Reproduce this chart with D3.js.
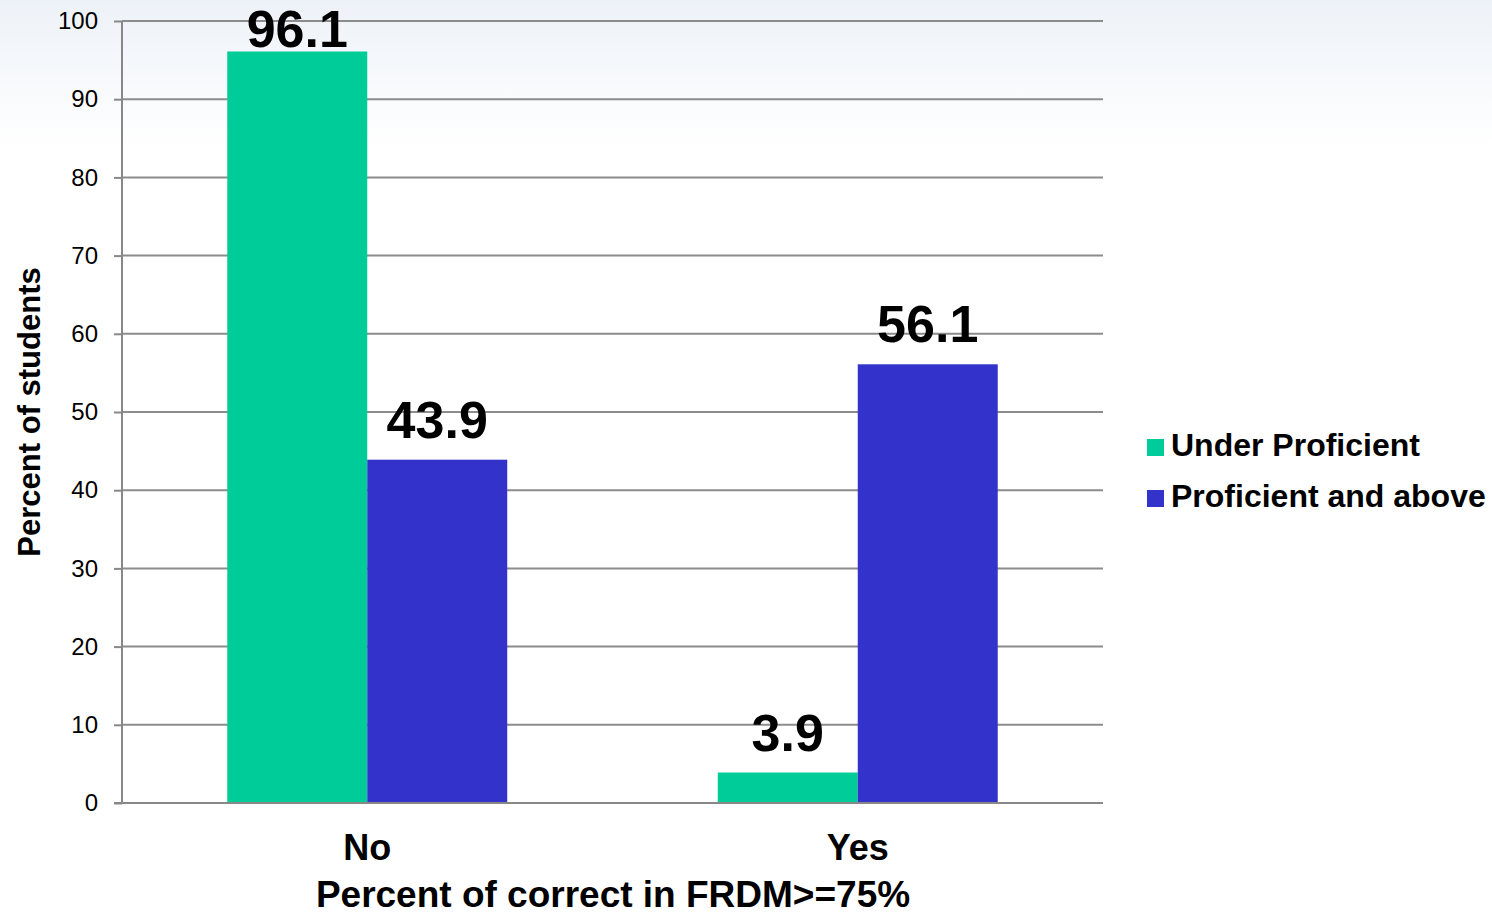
<!DOCTYPE html>
<html>
<head>
<meta charset="utf-8">
<script src="https://cdn.jsdelivr.net/npm/d3@7"></script>
<style>
  html, body { margin: 0; padding: 0; background: #fff; }
  svg { display: block; font-family: "Liberation Sans", Arial, sans-serif; }
</style>
</head>
<body>
<svg id="chart" width="1492" height="914"></svg>
<script>
// chart data
var categories = ['No', 'Yes'];
var seriesNames = ['Under Proficient', 'Proficient and above'];
var underProficient = [96.1, 3.9];
var proficientAbove = [43.9, 56.1];
var yTicks = [0, 10, 20, 30, 40, 50, 60, 70, 80, 90, 100];
var seriesColors = ['#00cc99', '#3333cc'];

var svg = d3.select('#chart'),
    width = 1492,
    height = 914,
    margin = {top: 21, right: 389, bottom: 111, left: 122},
    plotW = width - margin.left - margin.right,
    plotH = height - margin.top - margin.bottom;

// soft background fade at the top
var defs = svg.append('defs');
var grad = defs.append('linearGradient')
    .attr('id', 'bg')
    .attr('x1', 0).attr('y1', 0).attr('x2', 0).attr('y2', 1);
grad.append('stop').attr('offset', '0%').attr('stop-color', '#edf2f8');
grad.append('stop').attr('offset', '16%').attr('stop-color', '#ffffff');
grad.append('stop').attr('offset', '100%').attr('stop-color', '#ffffff');
svg.append('rect')
    .attr('width', width).attr('height', height)
    .attr('fill', 'url(#bg)');

var g = svg.append('g')
    .attr('transform', 'translate(' + margin.left + ',' + margin.top + ')');

var x0 = d3.scaleBand()
    .domain(categories)
    .range([0, plotW])
    .paddingInner(0.4292)
    .paddingOuter(0.2146);

var x1 = d3.scaleBand()
    .domain(seriesNames)
    .range([0, x0.bandwidth()]);

var y = d3.scaleLinear()
    .domain([0, 100])
    .range([plotH, 0]);

// gridlines + y ticks
var yAxis = g.append('g')
    .call(d3.axisLeft(y).tickValues(yTicks).tickSize(8).tickPadding(16));
yAxis.select('.domain').remove();
yAxis.selectAll('.tick line')
    .attr('stroke', '#888').attr('stroke-width', 2);
yAxis.selectAll('.tick text')
    .attr('fill', '#000')
    .style('font-size', '24px');

g.append('g')
    .selectAll('line')
    .data(yTicks.filter(function(d) { return d > 0; }))
    .enter().append('line')
    .attr('x1', 0).attr('x2', plotW)
    .attr('y1', function(d) { return y(d); })
    .attr('y2', function(d) { return y(d); })
    .attr('stroke', '#8c8c8c')
    .attr('stroke-width', 2);

// bars
var rows = categories.map(function(c, i) {
    return {cat: c, values: [
        {name: seriesNames[0], value: underProficient[i], color: seriesColors[0]},
        {name: seriesNames[1], value: proficientAbove[i], color: seriesColors[1]}
    ]};
});

var groups = g.selectAll('.group')
    .data(rows)
    .enter().append('g')
    .attr('class', 'group')
    .attr('transform', function(d) { return 'translate(' + x0(d.cat) + ',0)'; });

groups.selectAll('rect')
    .data(function(d) { return d.values; })
    .enter().append('rect')
    .attr('x', function(d) { return x1(d.name); })
    .attr('width', x1.bandwidth())
    .attr('y', function(d) { return y(d.value); })
    .attr('height', function(d) { return plotH - y(d.value); })
    .attr('fill', function(d) { return d.color; });

// labels sit above the bar, but never higher than the top of the plot
groups.selectAll('.val')
    .data(function(d) { return d.values; })
    .enter().append('text')
    .attr('class', 'val')
    .attr('x', function(d) { return x1(d.name) + x1.bandwidth() / 2; })
    .attr('y', function(d) { return Math.max(y(d.value) - 22, 26); })
    .attr('text-anchor', 'middle')
    .style('font-size', '52px')
    .style('font-weight', 'bold')
    .text(function(d) { return d3.format('.1f')(d.value); });

// axis lines
g.append('line')
    .attr('x1', 0).attr('x2', 0)
    .attr('y1', 0).attr('y2', plotH)
    .attr('stroke', '#888').attr('stroke-width', 2);
g.append('line')
    .attr('x1', -8).attr('x2', plotW)
    .attr('y1', plotH).attr('y2', plotH)
    .attr('stroke', '#888').attr('stroke-width', 2);

// category labels
g.selectAll('.cat')
    .data(categories)
    .enter().append('text')
    .attr('class', 'cat')
    .attr('x', function(d) { return x0(d) + x0.bandwidth() / 2; })
    .attr('y', plotH + 57)
    .attr('text-anchor', 'middle')
    .style('font-size', '36px')
    .style('font-weight', 'bold')
    .text(function(d) { return d; });

// axis titles
svg.append('text')
    .attr('x', 613)
    .attr('y', 907)
    .attr('text-anchor', 'middle')
    .style('font-size', '37px')
    .style('font-weight', 'bold')
    .text('Percent of correct in FRDM>=75%');

svg.append('text')
    .attr('transform', 'translate(40,412) rotate(-90)')
    .attr('text-anchor', 'middle')
    .style('font-size', '31px')
    .style('font-weight', 'bold')
    .text('Percent of students');

// legend
var legend = svg.append('g')
    .attr('transform', 'translate(1147,456)');
var items = legend.selectAll('g')
    .data(seriesNames)
    .enter().append('g')
    .attr('transform', function(d, i) { return 'translate(0,' + (i * 51) + ')'; });
items.append('rect')
    .attr('x', 0).attr('y', -17)
    .attr('width', 17).attr('height', 17)
    .attr('fill', function(d, i) { return seriesColors[i]; });
items.append('text')
    .attr('x', 24).attr('y', 0)
    .style('font-size', '32px')
    .style('font-weight', 'bold')
    .text(function(d) { return d; });
</script>
</body>
</html>
